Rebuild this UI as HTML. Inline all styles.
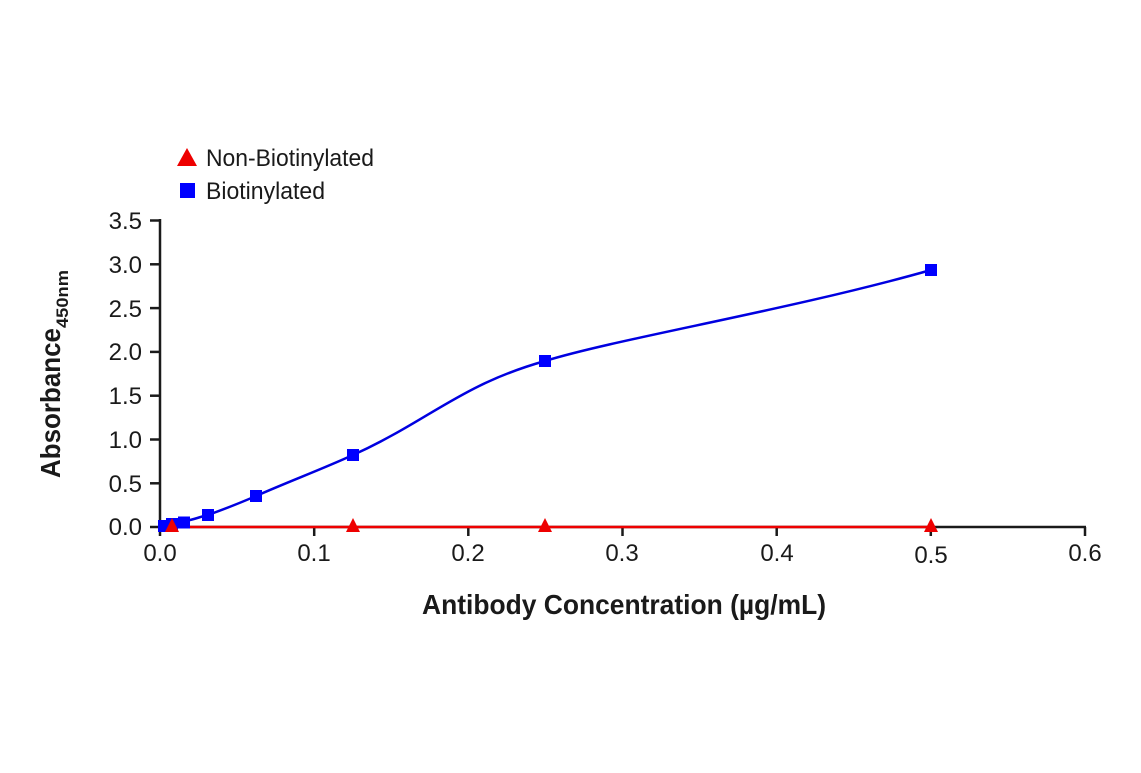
<!DOCTYPE html>
<html><head><style>
body{margin:0;background:#fff}
svg text{font-family:"Liberation Sans Narrow","Liberation Sans",sans-serif;fill:#1a1a1a}
</style></head><body>
<svg width="1141" height="768" viewBox="0 0 1141 768" xmlns="http://www.w3.org/2000/svg">
<g stroke="#1a1a1a" stroke-width="2.5" fill="none">
<line x1="160" y1="219" x2="160" y2="528"/>
<line x1="159" y1="527" x2="1086" y2="527"/>
<line x1="150" y1="220.5" x2="160" y2="220.5"/>
<line x1="150" y1="264.3" x2="160" y2="264.3"/>
<line x1="150" y1="308.1" x2="160" y2="308.1"/>
<line x1="150" y1="351.9" x2="160" y2="351.9"/>
<line x1="150" y1="395.7" x2="160" y2="395.7"/>
<line x1="150" y1="439.5" x2="160" y2="439.5"/>
<line x1="150" y1="483.3" x2="160" y2="483.3"/>
<line x1="150" y1="527" x2="160" y2="527"/>
<line x1="160" y1="527" x2="160" y2="536"/>
<line x1="314.2" y1="527" x2="314.2" y2="536"/>
<line x1="468.3" y1="527" x2="468.3" y2="536"/>
<line x1="622.5" y1="527" x2="622.5" y2="536"/>
<line x1="776.7" y1="527" x2="776.7" y2="536"/>
<line x1="930.8" y1="527" x2="930.8" y2="536"/>
<line x1="1085" y1="527" x2="1085" y2="536"/>
</g>
<g font-size="24" text-anchor="end">
<text x="142" y="229">3.5</text><text x="142" y="273">3.0</text><text x="142" y="317">2.5</text>
<text x="142" y="360">2.0</text><text x="142" y="404">1.5</text><text x="142" y="448">1.0</text>
<text x="142" y="492">0.5</text><text x="142" y="535">0.0</text>
</g>
<g font-size="24" text-anchor="middle">
<text x="160" y="561">0.0</text><text x="314" y="561">0.1</text><text x="468" y="561">0.2</text>
<text x="622" y="561">0.3</text><text x="777" y="561">0.4</text><text x="931" y="563">0.5</text><text x="1085" y="561">0.6</text>
</g>
<text x="422" y="614" font-size="28" font-weight="bold" textLength="404" lengthAdjust="spacingAndGlyphs">Antibody Concentration (µg/mL)</text>
<text transform="translate(60,478) rotate(-90)" font-size="28" font-weight="bold"><tspan textLength="150" lengthAdjust="spacingAndGlyphs">Absorbance</tspan><tspan font-size="17" dy="8" textLength="58" lengthAdjust="spacingAndGlyphs">450nm</tspan></text>
<line x1="166" y1="527" x2="931" y2="527" stroke="#e00" stroke-width="2.5"/>
<path d="M163,527 L172,524 C178,523 184,522 190,520 C198,518 203,516 208,515 C230,507 240,503 256,496 C290,481 320,470 353,455 C430,420 460,385 545,361 C620,338 790,310 931,270" stroke="#0000e0" stroke-width="2.5" fill="none"/>
<g fill="#0000ff">
<rect x="158" y="520" width="12" height="12"/><rect x="166" y="518" width="12" height="12"/>
<rect x="178" y="516.5" width="12" height="12"/><rect x="202" y="509" width="12" height="12"/>
<rect x="250" y="490" width="12" height="12"/><rect x="347" y="449" width="12" height="12"/>
<rect x="539" y="355" width="12" height="12"/><rect x="925" y="264" width="12" height="12"/>
<rect x="180" y="183" width="15" height="15"/>
</g>
<g fill="#ee0000">
<polygon points="172,518 179,532 165,532"/><polygon points="353,518 360,532 346,532"/>
<polygon points="545,518 552,532 538,532"/><polygon points="931,518 938,532 924,532"/>
<polygon points="187,148 197,166 177,166"/>
</g>
<text x="206" y="166" font-size="24" textLength="168" lengthAdjust="spacingAndGlyphs">Non-Biotinylated</text>
<text x="206" y="199" font-size="24" textLength="119" lengthAdjust="spacingAndGlyphs">Biotinylated</text>
</svg>
</body></html>
